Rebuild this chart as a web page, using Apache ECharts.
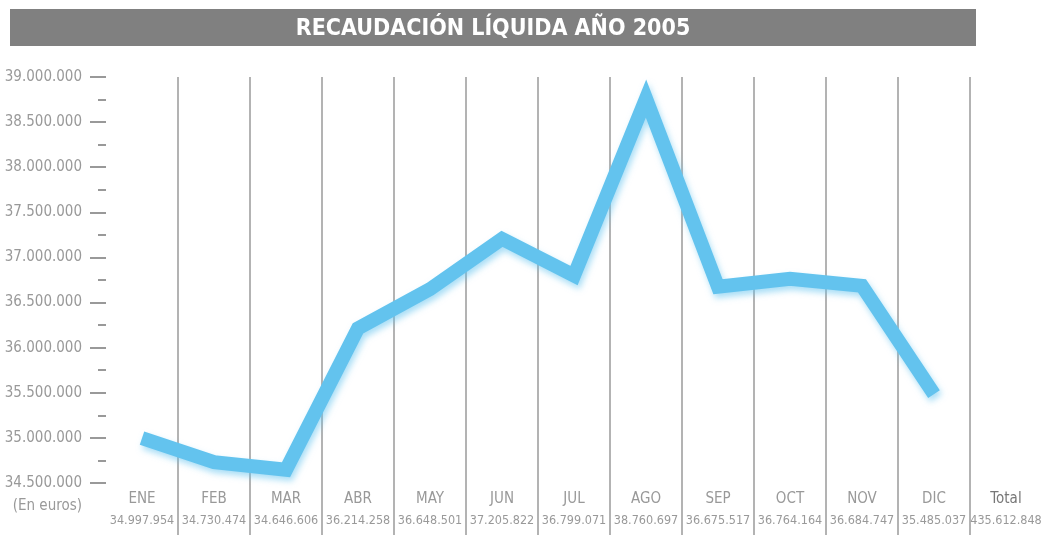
<!DOCTYPE html>
<html>
<head>
<meta charset="utf-8">
<script src="https://cdn.jsdelivr.net/npm/echarts@6/dist/echarts.min.js"></script>
<style>
  html, body { margin: 0; padding: 0; background: #fff; }
  #chart { width: 1048px; height: 535px; }
</style>
</head>
<body>
<div id="chart"></div>
<script>
// datos
const months = ['ENE', 'FEB', 'MAR', 'ABR', 'MAY', 'JUN', 'JUL', 'AGO', 'SEP', 'OCT', 'NOV', 'DIC', 'Total']
const recaudacion = [34997954, 34730474, 34646606, 36214258, 36648501, 37205822, 36799071, 38760697, 36675517, 36764164, 36684747, 35485037]
const total = 435612848
const yTicks = [34500000, 39000000, 500000] // min, max, interval

const FONT = '"DejaVu Sans Condensed", sans-serif'
const GRAY = '#999999'

function fmt (n) {
  return String(n).replace(/\B(?=(\d{3})+(?!\d))/g, '.')
}

const labelValues = recaudacion.concat([total])

const myChart = echarts.init(document.getElementById('chart'))
const option = {
  backgroundColor: '#fff',
  animation: false,
  graphic: [
    {
      type: 'rect',
      shape: { x: 10, y: 9, width: 966, height: 37 },
      style: { fill: '#808080' }
    },
    {
      type: 'text',
      x: 493, y: 29,
      style: {
        text: 'RECAUDACIÓN LÍQUIDA AÑO 2005',
        fill: '#fff',
        font: 'bold 23px ' + FONT,
        align: 'center',
        verticalAlign: 'middle'
      }
    },
    {
      type: 'text',
      x: 82, y: 506,
      style: {
        text: '(En euros)',
        fill: GRAY,
        font: '15px ' + FONT,
        align: 'right',
        verticalAlign: 'middle'
      }
    }
  ],
  grid: [
    { left: 106, right: 6, top: 77, bottom: 52, outerBoundsMode: 'none' },
    { left: 106, right: 6, top: 483, bottom: 0, outerBoundsMode: 'none' }
  ],
  xAxis: [
    {
      type: 'category',
      gridIndex: 0,
      data: months,
      boundaryGap: true,
      axisLine: { show: false },
      axisTick: { show: false },
      splitLine: {
        show: true,
        showMinLine: false,
        showMaxLine: false,
        lineStyle: { color: '#9a9a9a', width: 1.5 }
      },
      axisLabel: {
        interval: 0,
        margin: 5,
        formatter: function (val, i) {
          const m = val === 'Total' ? '{t|' + val + '}' : '{m|' + val + '}'
          return m + '\n{v|' + fmt(labelValues[i]) + '}'
        },
        rich: {
          m: { fontFamily: FONT, fontSize: 15, color: GRAY, lineHeight: 22 },
          t: { fontFamily: FONT, fontSize: 15, color: '#777', lineHeight: 22 },
          v: { fontFamily: FONT, fontSize: 12.5, color: GRAY, lineHeight: 22 }
        }
      }
    },
    {
      type: 'category',
      gridIndex: 1,
      data: months,
      boundaryGap: true,
      axisLine: { show: false },
      axisTick: { show: false },
      axisLabel: { show: false },
      splitLine: {
        show: true,
        showMinLine: false,
        showMaxLine: false,
        lineStyle: { color: '#9a9a9a', width: 1.5 }
      }
    }
  ],
  yAxis: [
    {
      type: 'value',
      gridIndex: 0,
      min: yTicks[0],
      max: yTicks[1],
      interval: yTicks[2],
      axisLine: { show: false },
      splitLine: { show: false },
      axisTick: { show: true, length: 16, lineStyle: { color: GRAY, width: 2 } },
      minorTick: { show: true, splitNumber: 2, length: 8, lineStyle: { color: GRAY, width: 2 } },
      axisLabel: {
        margin: 24,
        fontFamily: FONT,
        fontSize: 15,
        color: GRAY,
        formatter: function (v) { return fmt(v) }
      }
    },
    {
      type: 'value',
      gridIndex: 1,
      show: false
    }
  ],
  series: [
    {
      name: 'Recaudación',
      type: 'line',
      xAxisIndex: 0,
      yAxisIndex: 0,
      data: recaudacion.concat([null]),
      symbol: 'none',
      lineStyle: {
        color: '#63c3ee',
        width: 14,
        join: 'miter',
        cap: 'butt',
        shadowColor: 'rgba(99, 195, 238, 0.55)',
        shadowBlur: 6,
        shadowOffsetX: 2,
        shadowOffsetY: 4
      }
    }
  ]
}
myChart.setOption(option)
</script>
</body>
</html>
